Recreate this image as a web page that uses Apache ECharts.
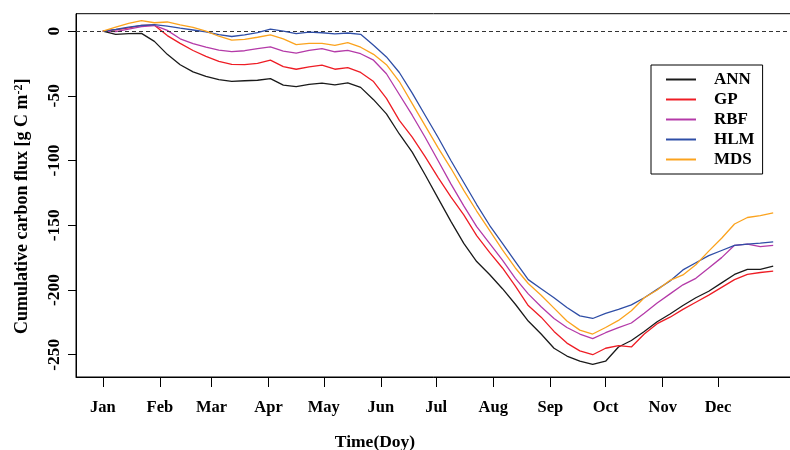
<!DOCTYPE html>
<html>
<head>
<meta charset="utf-8">
<script src="https://cdn.jsdelivr.net/npm/echarts@6/dist/echarts.min.js"></script>
<style>html,body{margin:0;padding:0;background:#fff;}#c{width:790px;height:450px;}</style>
</head>
<body>
<div id="c"></div>
<script>
const days = [1,8,15,22,29,36,43,50,57,64,71,78,85,92,99,106,113,120,127,134,141,148,155,162,169,176,183,190,197,204,211,218,225,232,239,246,253,260,267,274,281,288,295,302,309,316,323,330,337,344,351,358,365];
const ANN = [0,-2.5,-2,-1.8,-8,-18,-26,-31.5,-35,-37.5,-38.8,-38.4,-38,-36.8,-41.8,-43,-41.2,-40.2,-41.5,-40,-43.5,-53,-64,-79.5,-93.5,-111,-129,-147,-164,-178,-188,-199,-211,-224,-234,-245,-251,-255,-257.5,-255,-244,-239,-232,-224.5,-218.5,-212,-206,-201,-194.5,-188,-184,-184,-181.5];
const GP = [0,1,2.5,4.3,4.5,-3.5,-9.5,-15,-19.5,-23.5,-25.8,-26,-25,-22.5,-27.5,-29.5,-27.6,-26.3,-29.5,-28.2,-32,-39,-52,-69,-82,-97,-113,-128,-142,-158,-171,-183,-197,-212,-221,-232,-241,-247,-250,-245,-243,-244,-234,-226,-221,-215,-209.5,-204,-198,-192,-188,-186.5,-185.5];
const RBF = [0,-0.5,1.5,3.5,4.3,0.5,-6,-9.7,-12.5,-14.7,-15.9,-15.2,-13.5,-12.3,-15.5,-17,-15,-13.6,-16,-15,-17.5,-22.5,-33,-49,-65,-82,-100,-118,-135,-151,-164,-177,-191,-203,-213,-222,-229,-234,-237.5,-233,-229,-225.5,-218,-210,-203,-196,-191,-183,-175,-165.5,-164.5,-166.5,-165.5];
const HLM = [0,1.2,3,4.3,5,3.8,2.2,0.8,-0.6,-2.8,-4.2,-3,-1.3,1.5,0,-2,-0.8,-1.3,-2.2,-1.5,-2.5,-11,-20,-32,-48,-65,-82,-100,-117,-134,-150,-164,-178,-192,-199,-206,-213.5,-220,-222,-218,-215,-211.5,-206,-199.5,-193,-184.5,-179,-173.5,-169.5,-165.5,-164.5,-163.8,-162.8];
const MDS = [0,3,6,8,6.4,7,4.8,2.8,0,-4,-7,-6.5,-4.8,-3,-6,-10.5,-9.5,-9.5,-11,-9,-12.5,-18,-26,-39,-56,-73,-90,-106,-123,-139,-154,-169,-183,-195,-204,-214,-224,-231,-234,-229,-223.5,-216,-206,-200,-192.5,-188.4,-180.5,-170,-160,-149,-144,-142.5,-140.5];
const monthDays = [1,32,60,91,121,152,182,213,244,274,305,335];
const monthLabels = ['Jan','Feb','Mar','Apr','May','Jun','Jul','Aug','Sep','Oct','Nov','Dec'];
const yTicks = [0,-50,-100,-150,-200,-250];
const names = ['ANN','GP','RBF','HLM','MDS'];
const colors = ['#1a1a1a','#ee1d25','#b43aa8','#2f4ea6','#fba31e'];
const seriesData = [ANN, GP, RBF, HLM, MDS];

const font = 'Liberation Serif, Times New Roman, serif';
const chart = echarts.init(document.getElementById('c'), null, {renderer: 'canvas'});
const series = names.map((n, i) => ({
  name: n,
  type: 'line',
  symbol: 'none',
  showSymbol: false,
  color: colors[i],
  lineStyle: {width: 1.3, color: colors[i]},
  data: days.map((d, k) => [d, seriesData[i][k]]),
  z: 2 + i
}));
series[0].markLine = {
  silent: true,
  symbol: 'none',
  label: {show: false},
  lineStyle: {type: [4, 3], color: '#333', width: 1.2},
  data: [{yAxis: 0}]
};
chart.setOption({
  animation: false,
  backgroundColor: '#fff',
  grid: {left: 76, top: 13.7, width: 724, height: 363.3, outerBoundsMode: 'none', containLabel: false,
    show: true, borderColor: '#000', borderWidth: 1, backgroundColor: 'transparent'},
  legend: {
    orient: 'vertical', left: 651, top: 65,
    padding: [6, 8, 6, 15],
    itemGap: 3,
    itemWidth: 30, itemHeight: 2,
    icon: 'rect',
    borderColor: '#000', borderWidth: 1, backgroundColor: '#fff',
    textStyle: {fontFamily: font, fontWeight: 'bold', fontSize: 17, color: '#000', padding: [0, 0, 0, 13]},
    data: names
  },
  xAxis: {
    type: 'value', min: -13.56, max: 379.56,
    axisLine: {show: true, onZero: false, lineStyle: {color: '#000', width: 1}},
    axisTick: {show: true, inside: false, length: 10, lineStyle: {color: '#000'}, customValues: monthDays},
    axisLabel: {
      customValues: monthDays, margin: 22,
      fontFamily: font, fontWeight: 'bold', fontSize: 16.5, color: '#000',
      formatter: v => monthLabels[monthDays.indexOf(v)] || ''
    },
    splitLine: {show: false},
    name: 'Time(Doy)', nameLocation: 'middle', nameGap: 56,
    nameTextStyle: {fontFamily: font, fontWeight: 'bold', fontSize: 17.5, color: '#000', padding: [0, 126, 0, 0]}
  },
  yAxis: {
    type: 'value', min: -267.2, max: 13.4,
    axisLine: {show: true, onZero: false, lineStyle: {color: '#000', width: 1}},
    axisTick: {show: true, inside: false, length: 8, lineStyle: {color: '#000'}, customValues: yTicks},
    axisLabel: {
      customValues: yTicks, rotate: 90, margin: 13,
      fontFamily: font, fontWeight: 'bold', fontSize: 17.5, color: '#000'
    },
    splitLine: {show: false},
    name: 'Cumulative carbon flux [g C m{sup|-2}]', nameLocation: 'middle', nameGap: 45,
    nameTextStyle: {fontFamily: font, fontWeight: 'bold', fontSize: 18, color: '#000', padding: [0, 22, 0, 0],
      rich: {sup: {fontFamily: font, fontWeight: 'bold', fontSize: 12, verticalAlign: 'top', color: '#000', padding: [0, 0, 6, 0]}}}
  },
  series: series
});
</script>
</body>
</html>
